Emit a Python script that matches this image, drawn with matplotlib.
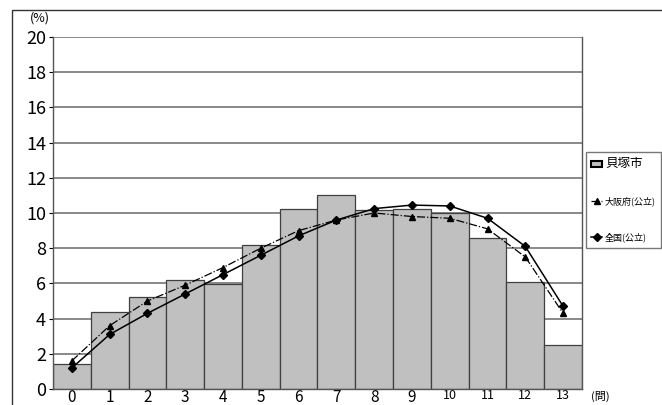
import matplotlib
matplotlib.use("Agg")
import matplotlib.pyplot as plt
from matplotlib.lines import Line2D
from matplotlib.patches import Patch, Rectangle

plt.rcParams['font.family'] = ['Noto Sans CJK JP', 'DejaVu Sans']

# 正答数（問）
questions = list(range(14))
tick_labels = [str(q) for q in questions]

# 貝塚市（棒）
kaizuka = [1.4, 4.4, 5.2, 6.2, 5.95, 8.2, 10.2, 11.0, 10.15, 10.2, 10.0, 8.6, 6.1, 2.5]
# 大阪府（公立）
osaka = [1.6, 3.6, 5.0, 5.9, 6.9, 8.0, 9.0, 9.6, 10.0, 9.8, 9.7, 9.1, 7.5, 4.3]
# 全国（公立）
zenkoku = [1.2, 3.1, 4.3, 5.4, 6.5, 7.6, 8.7, 9.6, 10.25, 10.45, 10.4, 9.7, 8.1, 4.7]

fig = plt.figure(figsize=(6.62, 4.05), dpi=100)
ax = fig.add_axes([53 / 662, 1 - 389 / 405, 529 / 662, 352 / 405])

# 外枠
fig.add_artist(Rectangle((12 / 662, -0.1), 1.1, 1 - 10 / 405 + 0.1,
                         transform=fig.transFigure, fill=False,
                         edgecolor='#333333', linewidth=1.0))

ax.set_axisbelow(True)
ax.yaxis.grid(True, color='#808080', linewidth=1.3)
ax.bar(questions, kaizuka, width=1.0, color='#c0c0c0', edgecolor='#404040',
       linewidth=0.9, zorder=2)
ax.plot(questions, osaka, color='black', linestyle='-.', linewidth=0.9,
        marker='^', markersize=5, zorder=3)
ax.plot(questions, zenkoku, color='black', linestyle='-', linewidth=1.1,
        marker='D', markersize=4, zorder=4)

ax.set_xlim(-0.5, 13.5)
ax.set_ylim(0, 20)
ax.set_yticks(range(0, 21, 2))
ax.set_yticklabels([str(v) for v in range(0, 21, 2)], fontsize=13)
ax.set_xticks(questions)
ax.set_xticklabels(tick_labels, fontsize=11)
for lab in ax.get_xticklabels()[10:]:
    lab.set_fontsize(9)
ax.tick_params(axis='x', length=0, pad=0)
ax.tick_params(axis='y', length=3, pad=2)

for side in ['left', 'right', 'top', 'bottom']:
    ax.spines[side].set_color('#555555')
    ax.spines[side].set_linewidth(1.0)
ax.spines['top'].set_visible(False)

fig.text(40 / 662, 1 - 18 / 405, '(%)', fontsize=9, ha='center', va='center')
fig.text(600 / 662, 1 - 396 / 405, '(問)', fontsize=8, ha='center', va='center')

handles = [
    Patch(facecolor='#c0c0c0', edgecolor='black', linewidth=1.5),
    Line2D([0], [0], color='black', linestyle='-.', linewidth=0.9, marker='^', markersize=5),
    Line2D([0], [0], color='black', linestyle='-', linewidth=1.1, marker='D', markersize=4),
]
labels = ['貝塚市', '大阪府(公立)', '全国(公立)']
leg = fig.legend(handles, labels, loc='upper left',
                 bbox_to_anchor=(586 / 662, 1 - 152 / 405),
                 frameon=True, fancybox=False, fontsize=6.5,
                 handlelength=1.2, handletextpad=0.3, labelspacing=2.9,
                 borderpad=0.6, borderaxespad=0)
leg.get_frame().set_edgecolor('#555555')
leg.get_frame().set_linewidth(1.0)
leg.get_texts()[0].set_fontsize(9)

fig.savefig('out.png', dpi=100)
